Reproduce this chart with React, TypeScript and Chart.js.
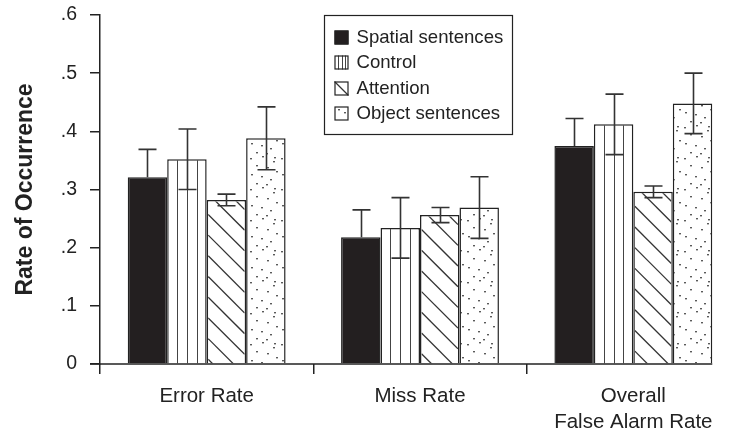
import React, { useEffect, useRef } from 'react';
import { Chart, registerables } from 'chart.js';

Chart.register(...registerables);

// ---- data ----
const categories: (string | string[])[] = ['Error Rate', 'Miss Rate', ['Overall', 'False Alarm Rate']];
const seriesNames = ['Spatial sentences', 'Control', 'Attention', 'Object sentences'];
const spatialValues = [0.321, 0.218, 0.375];
const controlValues = [0.352, 0.234, 0.412];
const attentionValues = [0.282, 0.256, 0.296];
const objectValues = [0.388, 0.269, 0.448];
const spatialErrors = [0.048, 0.047, 0.047];
const controlErrors = [0.052, 0.052, 0.052];
const attentionErrors = [0.010, 0.013, 0.010];
const objectErrors = [0.054, 0.053, 0.052];
const yTickValues = [0, 0.1, 0.2, 0.3, 0.4, 0.5, 0.6];
const yTickLabels = ['0', '.1', '.2', '.3', '.4', '.5', '.6'];

const INK = '#222';
const FONT = '"Liberation Sans", Arial, Helvetica, sans-serif';
const stippleDots: [number, number][] = [
  [2, 3], [14, 1], [25, 6], [8, 10], [19, 12], [28, 16], [3, 19], [13, 21],
  [22, 24], [8, 28], [18, 29], [26, 2],
];

function makeStipple(): CanvasPattern | string {
  const n = 31;
  const c = document.createElement('canvas');
  c.width = n;
  c.height = n;
  const g = c.getContext('2d');
  if (!g) return '#fff';
  g.fillStyle = '#fff';
  g.fillRect(0, 0, n, n);
  g.fillStyle = '#5a5a5a';
  stippleDots.forEach(([dx, dy]) => g.fillRect(dx, dy, 2, 1.4));
  const p = g.createPattern(c, 'repeat');
  return p || '#fff';
}

function drawVLines(ctx: CanvasRenderingContext2D, left: number, top: number, width: number, bottom: number) {
  ctx.save();
  ctx.strokeStyle = '#444';
  ctx.lineWidth = 1;
  for (let k = 1; k < 4; k++) {
    const lx = Math.round(left + (width * k) / 4) + 0.5;
    ctx.beginPath();
    ctx.moveTo(lx, top);
    ctx.lineTo(lx, bottom);
    ctx.stroke();
  }
  ctx.restore();
}

function drawDiag(ctx: CanvasRenderingContext2D, left: number, top: number, width: number, bottom: number, gap: number, phase: number) {
  ctx.save();
  ctx.beginPath();
  ctx.rect(left, top, width, bottom - top);
  ctx.clip();
  ctx.strokeStyle = '#333';
  ctx.lineWidth = 1.3;
  const h = bottom - top;
  for (let c = -width + phase; c < h + width; c += gap) {
    ctx.beginPath();
    ctx.moveTo(left, top + c);
    ctx.lineTo(left + width, top + c + width);
    ctx.stroke();
  }
  ctx.restore();
}

const hatchPlugin = {
  id: 'hatch',
  afterDatasetsDraw(chart: any) {
    const ctx = chart.ctx as CanvasRenderingContext2D;
    chart.getDatasetMeta(1).data.forEach((el: any) => {
      const { x, y, base, width } = el.getProps(['x', 'y', 'base', 'width'], true);
      drawVLines(ctx, x - width / 2, y + 1, width, base);
    });
    chart.getDatasetMeta(2).data.forEach((el: any) => {
      const { x, y, base, width } = el.getProps(['x', 'y', 'base', 'width'], true);
      drawDiag(ctx, x - width / 2 + 1.5, y + 1.5, width - 3, base, 20.7, 8);
    });
  },
};

const errorPlugin = {
  id: 'errbars',
  afterDatasetsDraw(chart: any) {
    const ctx = chart.ctx as CanvasRenderingContext2D;
    const yScale = chart.scales.y;
    chart.data.datasets.forEach((ds: any, di: number) => {
      const meta = chart.getDatasetMeta(di);
      meta.data.forEach((el: any, i: number) => {
        const v = ds.data[i];
        const e = ds.errors[i];
        const x = Math.round(el.x) + 0.5;
        const hi = yScale.getPixelForValue(v + e);
        const mid = yScale.getPixelForValue(v);
        const lo = yScale.getPixelForValue(v - e);
        const solid = ds.solidFill;
        ctx.save();
        ctx.strokeStyle = '#333';
        ctx.lineWidth = 1.6;
        ctx.beginPath();
        ctx.moveTo(x, hi);
        ctx.lineTo(x, solid ? mid : lo);
        ctx.moveTo(x - 9, hi);
        ctx.lineTo(x + 9, hi);
        if (!solid) {
          ctx.moveTo(x - 9, lo);
          ctx.lineTo(x + 9, lo);
        }
        ctx.stroke();
        ctx.restore();
      });
    });
  },
};

const axisLinePlugin = {
  id: 'axisLine',
  afterDraw(chart: any) {
    const ctx = chart.ctx as CanvasRenderingContext2D;
    const lastMeta = chart.getDatasetMeta(chart.data.datasets.length - 1);
    const lastEl = lastMeta.data[lastMeta.data.length - 1];
    const right = lastEl.x + lastEl.width / 2;
    const y = chart.scales.y.getPixelForValue(0);
    ctx.save();
    ctx.strokeStyle = INK;
    ctx.lineWidth = 1.5;
    ctx.beginPath();
    ctx.moveTo(chart.chartArea.left - 10, y);
    ctx.lineTo(right, y);
    ctx.stroke();
    ctx.restore();
  },
};

const legendPlugin = {
  id: 'boxLegend',
  afterDraw(chart: any) {
    const ctx = chart.ctx as CanvasRenderingContext2D;
    const ca = chart.chartArea;
    const bx = ca.left + 224.5;
    const by = ca.top + 0.5;
    const bw = 188;
    const bh = 119;
    ctx.save();
    ctx.fillStyle = '#fff';
    ctx.fillRect(bx, by, bw, bh);
    ctx.strokeStyle = INK;
    ctx.lineWidth = 1.2;
    ctx.strokeRect(bx, by, bw, bh);
    ctx.font = `18.6px ${FONT}`;
    ctx.textBaseline = 'middle';
    ctx.textAlign = 'left';
    const rowY = [22, 47, 73, 98];
    const datasets = chart.data.datasets;
    seriesNames.forEach((name, i) => {
      const cy = by + rowY[i];
      const ix = bx + 10;
      const iy = cy - 7;
      const s = 14;
      ctx.fillStyle = datasets[i].backgroundColor;
      ctx.fillRect(ix, iy, s, s);
      if (i === 1) drawVLines(ctx, ix, iy, s, iy + s);
      if (i === 2) {
        ctx.save();
        ctx.strokeStyle = '#333';
        ctx.lineWidth = 1.2;
        ctx.beginPath();
        ctx.moveTo(ix, iy);
        ctx.lineTo(ix + s, iy + s);
        ctx.stroke();
        ctx.restore();
      }
      ctx.strokeStyle = INK;
      ctx.lineWidth = 1.2;
      ctx.strokeRect(ix + 0.5, iy + 0.5, s - 1, s - 1);
      ctx.fillStyle = INK;
      ctx.fillText(name, bx + 32, cy);
    });
    ctx.restore();
  },
};

export default function App() {
  const ref = useRef<HTMLCanvasElement | null>(null);

  useEffect(() => {
    if (!ref.current) return;
    const stipple = makeStipple();
    const valueSets = [spatialValues, controlValues, attentionValues, objectValues];
    const errorSets = [spatialErrors, controlErrors, attentionErrors, objectErrors];
    const fills: any[] = ['#231f20', '#ffffff', '#ffffff', stipple];
    const chart = new Chart(ref.current, {
      type: 'bar',
      data: {
        labels: categories as any,
        datasets: seriesNames.map((name, i) => ({
          label: name,
          data: valueSets[i],
          errors: errorSets[i],
          solidFill: i === 0,
          backgroundColor: fills[i],
          borderColor: INK,
          borderWidth: 1.5,
          categoryPercentage: 0.74,
          barPercentage: 1.0,
        })) as any,
      },
      options: {
        animation: false,
        responsive: false,
        devicePixelRatio: 1,
        events: [],
        layout: { padding: { left: 0, right: 5, top: 15, bottom: 0 } },
        plugins: {
          legend: { display: false },
          tooltip: { enabled: false },
        },
        scales: {
          x: {
            type: 'category',
            offset: true,
            border: { display: false },
            grid: {
              offset: true,
              drawOnChartArea: false,
              drawTicks: true,
              tickLength: 10,
              color: INK,
              lineWidth: 1.5,
            },
            ticks: {
              color: INK,
              font: { family: FONT, size: 20.5, lineHeight: 1.25 },
              padding: 10,
              maxRotation: 0,
              autoSkip: false,
            },
            afterFit: (scale: any) => {
              scale.height = 69;
              scale.paddingLeft = 0;
              scale.paddingRight = 0;
            },
          },
          y: {
            min: 0,
            max: 0.6,
            afterBuildTicks: (scale: any) => {
              scale.ticks = yTickValues.map((v) => ({ value: v }));
            },
            border: { display: true, color: INK, width: 1.5 },
            grid: {
              drawOnChartArea: false,
              drawTicks: true,
              tickLength: 10,
              color: INK,
              lineWidth: 1.5,
            },
            ticks: {
              color: INK,
              font: { family: FONT, size: 19.5 },
              padding: 13,
              callback: (_v: any, idx: number) => yTickLabels[idx],
            },
            title: {
              display: true,
              text: 'Rate of Occurrence',
              color: INK,
              font: { family: FONT, size: 23, weight: 'bold' },
              padding: { top: 12, bottom: 0 },
            },
            afterFit: (scale: any) => {
              scale.width = 100;
              scale.paddingTop = 0;
              scale.paddingBottom = 0;
            },
          },
        },
      } as any,
      plugins: [hatchPlugin, errorPlugin, axisLinePlugin, legendPlugin],
    });
    return () => chart.destroy();
  }, []);

  return (
    <div style={{ position: 'fixed', left: 0, top: 0, width: 731, height: 433, overflow: 'hidden', background: '#fff' }}>
      <canvas ref={ref} width={745} height={433} style={{ display: 'block', width: 745, height: 433 }} />
    </div>
  );
}
